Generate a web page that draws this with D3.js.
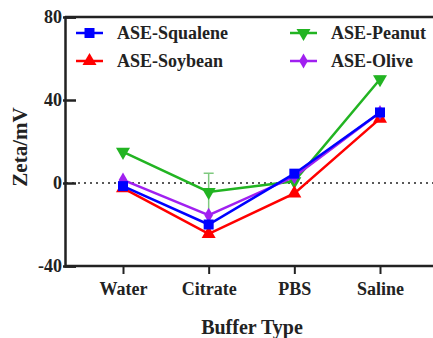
<!DOCTYPE html>
<html lang="en">
<head>
<meta charset="UTF-8">
<title>Zeta potential by buffer</title>
<script src="https://d3js.org/d3.v7.min.js"></script>
<style>
    body { margin: 0; background: #fff; }
</style>
</head>
<body>
<div id="chart"></div>
<script>
// data
const categories = ["Water", "Citrate", "PBS", "Saline"];
const seriesNames = ["ASE-Squalene", "ASE-Soybean", "ASE-Peanut", "ASE-Olive"];
const squalene = [-1.5, -20, 4.5, 34];
const soybean = [-2.5, -24.5, -5, 31];
const peanut = [15, -4.3, 0.8, 50];
const olive = [1.5, -15.5, 3, 34];
const peanutErr = [1, 9, 1, 1.5];
const yTicks = [-40, 0, 40, 80];

const colors = ["#0000ff", "#ff0000", "#22b422", "#a020f0"];
const symbols = [d3.symbolSquare, d3.symbolTriangle, d3.symbolTriangle, d3.symbolDiamond];
const rotations = [0, 0, 180, 0];
const sizes = [100, 85, 85, 65];
const serif = "Liberation Serif";
const ink = "#222";

const width = 433, height = 338;
const svg = d3.select("#chart").append("svg")
    .attr("width", width).attr("height", height)
    .attr("font-family", serif).attr("font-weight", "bold");

const x = d3.scalePoint().domain(categories).range([123, 380]);
const y = d3.scaleLinear().domain([-40, 80]).range([266, 17]);

// frame top line
svg.append("line")
    .attr("x1", 65).attr("x2", width).attr("y1", y(80)).attr("y2", y(80))
    .attr("stroke", ink).attr("stroke-width", 2.5);

// zero line
svg.append("line")
    .attr("x1", 66).attr("x2", width).attr("y1", y(0)).attr("y2", y(0))
    .attr("stroke", ink).attr("stroke-width", 1.5)
    .attr("stroke-dasharray", "2,4");

// y axis
const yAxis = svg.append("g")
    .attr("transform", "translate(65,0)")
    .call(d3.axisLeft(y).tickValues(yTicks).tickSize(-11).tickPadding(15).tickFormat(d => String(d)));
yAxis.attr("font-family", serif);
yAxis.select(".domain").attr("stroke", ink).attr("stroke-width", 2.5);
yAxis.selectAll(".tick line").attr("stroke", ink).attr("stroke-width", 2.5)
    .attr("x1", -2);
yAxis.selectAll("text").attr("font-family", serif).attr("font-weight", "bold")
    .attr("font-size", 18).attr("fill", ink).attr("x", -3);

// x axis
const xAxis = svg.append("g")
    .attr("transform", "translate(0,266)")
    .call(d3.axisBottom(x).tickSize(8).tickSizeOuter(0).tickPadding(8));
xAxis.attr("font-family", serif);
xAxis.select(".domain").attr("d", `M65,0H${width}`).attr("stroke", ink).attr("stroke-width", 2.5);
xAxis.selectAll(".tick line").attr("stroke", ink).attr("stroke-width", 2);
xAxis.selectAll("text").attr("font-family", serif).attr("font-weight", "bold")
    .attr("font-size", 18).attr("fill", ink);

// axis titles
svg.append("text")
    .attr("x", 252).attr("y", 334)
    .attr("text-anchor", "middle").attr("font-size", 20).attr("fill", ink)
    .text("Buffer Type");
svg.append("text")
    .attr("transform", "translate(27,147) rotate(-90)")
    .attr("text-anchor", "middle").attr("font-size", 21).attr("fill", ink)
    .text("Zeta/mV");

const allSeries = [squalene, soybean, peanut, olive];
const line = d3.line().x((d, i) => x(categories[i])).y(d => y(d));

// draw order so blue sits on top like the original
const order = [2, 1, 3, 0];

// peanut error bars
svg.append("g").selectAll("g")
    .data(peanut.map((v, i) => ({ v, e: peanutErr[i], c: categories[i] })))
    .join("g")
    .each(function (d) {
        const g = d3.select(this);
        g.append("line").attr("x1", x(d.c)).attr("x2", x(d.c))
            .attr("y1", y(d.v - d.e)).attr("y2", y(d.v + d.e))
            .attr("stroke", "#7fc97f").attr("stroke-width", 1.5);
        g.append("line").attr("x1", x(d.c) - 5).attr("x2", x(d.c) + 5)
            .attr("y1", y(d.v + d.e)).attr("y2", y(d.v + d.e))
            .attr("stroke", "#7fc97f").attr("stroke-width", 1.5);
    });

order.forEach(k => {
    svg.append("path")
        .datum(allSeries[k])
        .attr("fill", "none")
        .attr("stroke", colors[k])
        .attr("stroke-width", 2.5)
        .attr("d", line);
    svg.append("g").selectAll("path")
        .data(allSeries[k])
        .join("path")
        .attr("d", d3.symbol().type(symbols[k]).size(sizes[k]))
        .attr("transform", (d, i) => `translate(${x(categories[i])},${y(d)}) rotate(${rotations[k]})`)
        .attr("fill", colors[k]);
});

// legend
const legendPos = [[76, 33], [76, 61], [290, 33], [290, 61]];
seriesNames.forEach((name, k) => {
    const [lx, ly] = legendPos[k];
    const g = svg.append("g").attr("transform", `translate(${lx},${ly})`);
    g.append("line").attr("x1", 0).attr("x2", 27).attr("y1", 0).attr("y2", 0)
        .attr("stroke", colors[k]).attr("stroke-width", 2.5);
    g.append("path")
        .attr("d", d3.symbol().type(symbols[k]).size(sizes[k]))
        .attr("transform", `translate(13.5,0) rotate(${rotations[k]})`)
        .attr("fill", colors[k]);
    g.append("text").attr("x", 41).attr("y", 6)
        .attr("font-size", 18).attr("fill", ink).text(name);
});
</script>
</body>
</html>
